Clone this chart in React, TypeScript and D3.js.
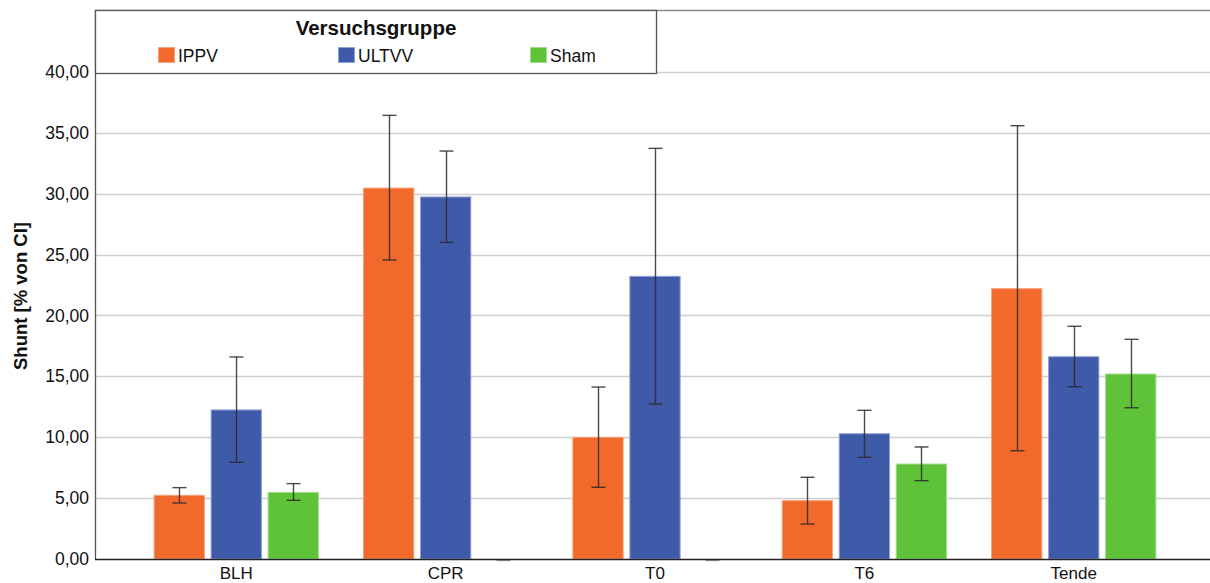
import React from "react";
import * as d3 from "d3";

const categories = ["BLH", "CPR", "T0", "T6", "Tende"];
const seriesNames = ["IPPV", "ULTVV", "Sham"];
const ippv = [5.23, 30.46, 9.99, 4.79, 22.2];
const ippvLo = [4.6, 24.55, 5.89, 2.87, 8.89];
const ippvHi = [5.86, 36.43, 14.12, 6.71, 35.58];
const ultvv = [12.24, 29.73, 23.21, 10.29, 16.61];
const ultvvLo = [7.94, 26.0, 12.73, 8.35, 14.15];
const ultvvHi = [16.59, 33.5, 33.72, 12.21, 19.11];
const sham = [5.47, 0, 0, 7.8, 15.19];
const shamLo = [4.82, 0, 0, 6.43, 12.42];
const shamHi = [6.19, 0, 0, 9.2, 18.04];
const yTicks = [0, 5, 10, 15, 20, 25, 30, 35, 40];

const colors = ["#F26A2B", "#3F5AA9", "#5FC33A"];
const outlines = ["#F8A27C", "#8FA2D8", "#A3DD8C"];

const W = 1210;
const H = 583;
const left = 95;
const right = 1210;
const bottom = 559;
const top = 11;

export default function App() {
  const x = d3.scaleBand<string>().domain(categories).range([131.6, 1178.4]).padding(0);
  const bw = x.bandwidth();
  const inner = d3
    .scaleBand<string>()
    .domain(seriesNames)
    .range([bw / 2 - 85.5, bw / 2 + 85.5])
    .paddingInner(0.1)
    .paddingOuter(0.05);
  const y = d3.scaleLinear().domain([0, 45]).range([bottom, top]);
  const fmt = (v: number) => v.toFixed(2).replace(".", ",");

  const vals = [ippv, ultvv, sham];
  const los = [ippvLo, ultvvLo, shamLo];
  const his = [ippvHi, ultvvHi, shamHi];
  const font = "'Liberation Sans', Arial, sans-serif";
  const capW = 14;

  const legendX = [158, 338, 530];

  return (
    <svg
      width={W}
      height={H}
      style={{ position: "absolute", left: 0, top: 0, background: "#fff" }}
      fontFamily={font}
    >
      {/* gridlines */}
      {yTicks.slice(1).map((t) => (
        <line key={t} x1={left} x2={right} y1={Math.round(y(t)) + 0.5} y2={Math.round(y(t)) + 0.5} stroke="#cfcfcf" strokeWidth={1.3} />
      ))}
      {/* top frame */}
      <line x1={left} x2={right} y1={y(45) - 0.5} y2={y(45) - 0.5} stroke="#8a8a8a" strokeWidth={1.3} />
      {/* bars */}
      {seriesNames.map((s, si) =>
        categories.map((c, ci) => {
          const v = vals[si][ci];
          if (v <= 0) return null;
          const bx = (x(c) as number) + (inner(s) as number);
          return (
            <rect
              key={s + c}
              x={bx + 0.5}
              y={y(v)}
              width={inner.bandwidth() - 1}
              height={bottom - y(v)}
              fill={colors[si]}
              stroke={outlines[si]}
              strokeWidth={1}
            />
          );
        })
      )}
      {/* error bars */}
      {seriesNames.map((s, si) =>
        categories.map((c, ci) => {
          const cx = Math.round((x(c) as number) + (inner(s) as number) + inner.bandwidth() / 2) + 0.5;
          const lo = los[si][ci];
          const hi = his[si][ci];
          if (hi === 0 && lo === 0) {
            return (
              <line key={"e" + s + c} x1={cx - capW / 2} x2={cx + capW / 2} y1={y(0) + 1.5} y2={y(0) + 1.5} stroke="#9a9a9a" strokeWidth={1.3} />
            );
          }
          return (
            <g key={"e" + s + c} stroke="#2a2a2a" strokeWidth={1.4} strokeOpacity={0.85}>
              <line x1={cx} x2={cx} y1={y(hi)} y2={y(lo)} />
              <line x1={cx - capW / 2} x2={cx + capW / 2} y1={y(hi)} y2={y(hi)} />
              <line x1={cx - capW / 2} x2={cx + capW / 2} y1={y(lo)} y2={y(lo)} />
            </g>
          );
        })
      )}
      {/* axes */}
      <line x1={left + 0.5} x2={left + 0.5} y1={y(45) - 1} y2={bottom} stroke="#555" strokeWidth={1.3} />
      <line x1={left} x2={right} y1={bottom + 0.5} y2={bottom + 0.5} stroke="#222" strokeWidth={1.5} />
      {/* y tick labels */}
      {yTicks.map((t) => (
        <text key={"t" + t} x={89} y={y(t)} dy="0.35em" textAnchor="end" fontSize={17.5} fill="#111">
          {fmt(t)}
        </text>
      ))}
      {/* x labels */}
      {categories.map((c) => (
        <text key={"x" + c} x={(x(c) as number) + bw / 2} y={579} textAnchor="middle" fontSize={17} fill="#111">
          {c}
        </text>
      ))}
      {/* y title */}
      <text
        transform={`translate(27, 296) rotate(-90)`}
        textAnchor="middle"
        fontSize={18.5}
        fontWeight="bold"
        fill="#111"
      >
        Shunt [% von CI]
      </text>
      {/* legend */}
      <rect x={left + 0.5} y={10.5} width={561} height={63} fill="#fff" stroke="#555" strokeWidth={1.3} />
      <text x={376} y={35} textAnchor="middle" fontSize={20.5} fontWeight="bold" fill="#111">
        Versuchsgruppe
      </text>
      {seriesNames.map((s, si) => (
        <g key={"l" + s}>
          <rect x={legendX[si] + 0.5} y={47.5} width={16} height={15} fill={colors[si]} stroke={outlines[si]} strokeWidth={1} />
          <text x={legendX[si] + 20} y={62} fontSize={17.5} fill="#111">
            {s}
          </text>
        </g>
      ))}
    </svg>
  );
}
